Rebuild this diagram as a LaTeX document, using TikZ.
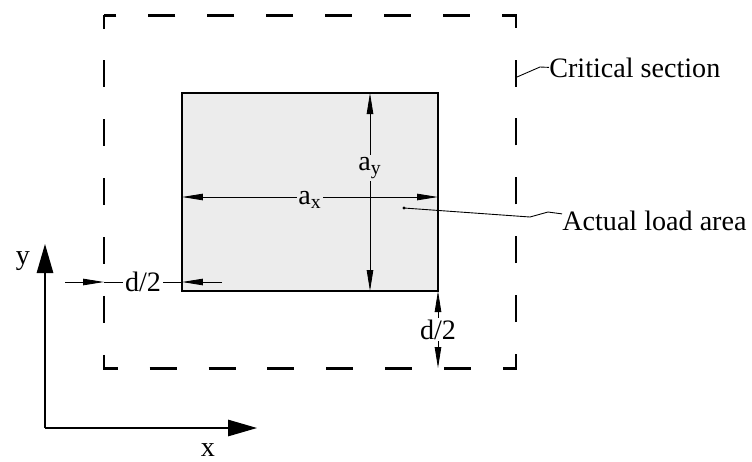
\documentclass[tikz,border=0pt]{standalone}
\usepackage{fontspec}
\setmainfont{Liberation Serif}
\usetikzlibrary{arrows.meta}
\definecolor{loadgray}{RGB}{236,236,236}

\begin{document}
\begin{tikzpicture}[x=0.02cm, y=-0.02cm, >={Triangle[length=4.2mm,width=1.3mm]},
    every node/.style={font=\fontsize{16}{19}\selectfont},
    dim/.style={line width=0.5pt},
    dimlabel/.style={inner sep=1pt},
    sect/.style={line width=1.7pt, line join=miter, dash pattern=on 0.54cm off 0.638cm, dash phase=0.27cm},
    axis/.style={line width=0.7pt, -{Triangle[length=5.8mm,width=3.3mm]}},
    callout/.style={anchor=base west, inner sep=0pt}]
    \useasboundingbox (0,0) rectangle (752,461);
    % critical section
    \coordinate (cs1) at (104,15);
    \coordinate (cs2) at (516,368);
    \draw[sect] (cs1) rectangle (cs2);
    % actual load area
    \coordinate (la1) at (182,93);
    \coordinate (la2) at (438,291);
    \draw[fill=loadgray, line width=0.6pt] (la1) rectangle (la2);
    \draw[line width=1.3pt] (313,93) -- (370,93) (313,291) -- (370,291);
    % a_x and a_y
    \coordinate (axl) at (182,197); \coordinate (axr) at (438,197);
    \draw[dim, <->] (axl) -- node[fill=loadgray, dimlabel, yshift=-0.06cm] {a\textsubscript{x}} (axr);
    \coordinate (ayt) at (370,93); \coordinate (ayb) at (370,291);
    \draw[dim, <->] (ayt) -- node[pos=0.38, fill=loadgray, dimlabel] {a\textsubscript{y}} (ayb);
    % d/2 (horizontal)
    \coordinate (dh0) at (65,282); \coordinate (dh1) at (104,282);
    \coordinate (dh2) at (182,282); \coordinate (dh3) at (222,282);
    \draw[dim, ->] (dh0) -- (dh1);
    \draw[dim, ->] (dh3) -- (dh2);
    \draw[dim] (dh1) -- node[fill=white, dimlabel] {d/2} (dh2);
    % d/2 (vertical)
    \coordinate (dv1) at (438,291); \coordinate (dv2) at (438,368);
    \draw[dim, <->] (dv1) -- node[fill=white, dimlabel] {d/2} (dv2);
    % axes
    \coordinate (o) at (45,428);
    \coordinate (yt) at (45,244); \coordinate (xt) at (257,428);
    \draw[axis] (o) -- (yt);
    \draw[axis] (o) -- (xt);
    \node[inner sep=0pt] (ylab) at (23,261) {y};
    \node[inner sep=0pt] (xlab) at (208,450) {x};
    % labels
    \node[callout] (crit) at (549,77) {Critical section};
    \coordinate (cs3) at (517,77);
    \draw[dim] (cs3) -- (540,67) -- (crit.west);
    \node[callout] (act) at (562,230) {Actual load area};
    \coordinate (dot) at (404,208);
    \fill (dot) circle (1.6);
    \draw[dim] (dot) -- (530,217) -- (548,212) -- ([yshift=0.13cm]act.west);
\end{tikzpicture}
\end{document}
